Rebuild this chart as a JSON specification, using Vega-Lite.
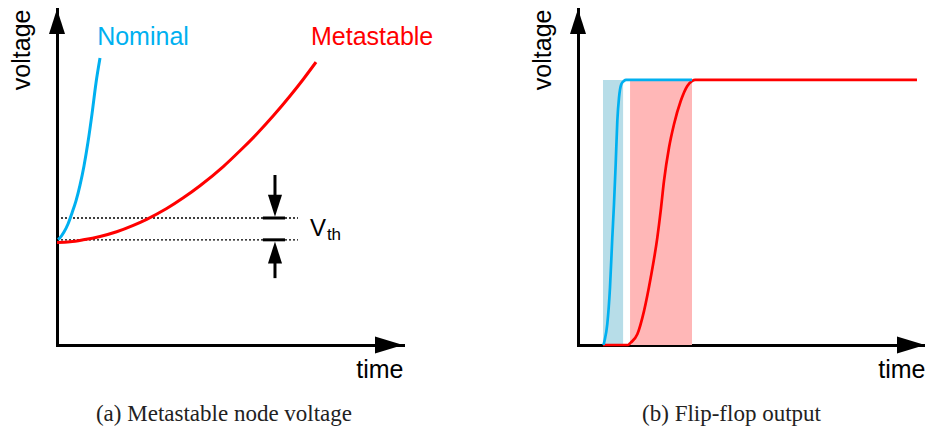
{
  "$schema": "https://vega.github.io/schema/vega-lite/v6.json",
  "background": "white",
  "padding": {"left": 9, "top": 8, "right": 0, "bottom": 0},
  "spacing": 96,
  "config": {"view": {"stroke": null}, "font": "Liberation Sans"},
  "datasets": {
    "left": [
      {"kind": "curve", "series": "Nominal", "t": 0.29, "v": 31.4},
      {"kind": "curve", "series": "Nominal", "t": 0.87, "v": 31.9},
      {"kind": "curve", "series": "Nominal", "t": 2.02, "v": 33.6},
      {"kind": "curve", "series": "Nominal", "t": 3.18, "v": 36.0},
      {"kind": "curve", "series": "Nominal", "t": 4.34, "v": 39.3},
      {"kind": "curve", "series": "Nominal", "t": 5.49, "v": 42.9},
      {"kind": "curve", "series": "Nominal", "t": 6.65, "v": 47.6},
      {"kind": "curve", "series": "Nominal", "t": 7.8, "v": 53.3},
      {"kind": "curve", "series": "Nominal", "t": 8.96, "v": 60.4},
      {"kind": "curve", "series": "Nominal", "t": 10.12, "v": 68.8},
      {"kind": "curve", "series": "Nominal", "t": 11.27, "v": 78.0},
      {"kind": "curve", "series": "Nominal", "t": 12.43, "v": 85.4},
      {"kind": "curve", "series": "Metastable", "t": 0, "v": 30.5},
      {"kind": "curve", "series": "Metastable", "t": 3.76, "v": 30.7},
      {"kind": "curve", "series": "Metastable", "t": 7.6, "v": 31.3},
      {"kind": "curve", "series": "Metastable", "t": 12.43, "v": 32.3},
      {"kind": "curve", "series": "Metastable", "t": 17.25, "v": 33.7},
      {"kind": "curve", "series": "Metastable", "t": 22.05, "v": 35.6},
      {"kind": "curve", "series": "Metastable", "t": 25.92, "v": 37.4},
      {"kind": "curve", "series": "Metastable", "t": 31.7, "v": 40.6},
      {"kind": "curve", "series": "Metastable", "t": 36.5, "v": 43.8},
      {"kind": "curve", "series": "Metastable", "t": 41.33, "v": 47.4},
      {"kind": "curve", "series": "Metastable", "t": 48.06, "v": 53.1},
      {"kind": "curve", "series": "Metastable", "t": 52.89, "v": 57.8},
      {"kind": "curve", "series": "Metastable", "t": 57.72, "v": 62.8},
      {"kind": "curve", "series": "Metastable", "t": 62.51, "v": 68.2},
      {"kind": "curve", "series": "Metastable", "t": 67.34, "v": 74.1},
      {"kind": "curve", "series": "Metastable", "t": 71.18, "v": 79.1},
      {"kind": "curve", "series": "Metastable", "t": 74.86, "v": 84.2},
      {"kind": "thresh", "t": 0, "t2": 69.65, "v": 37.8},
      {"kind": "thresh", "t": 0, "t2": 69.65, "v": 31.3},
      {"kind": "bar", "t": 59.5, "t2": 65.9, "v": 37.8},
      {"kind": "bar", "t": 59.5, "t2": 65.9, "v": 31.3},
      {"kind": "shaft", "t": 63.0, "v": 50.6, "v2": 42.9},
      {"kind": "shaft", "t": 63.0, "v": 26.5, "v2": 19.9},
      {"kind": "down", "t": 63.0, "v": 38.2},
      {"kind": "up", "t": 63.0, "v": 30.8},
      {"kind": "yaxis", "t": 0, "v": 100},
      {"kind": "xaxis", "t": 100, "v": 0},
      {"kind": "label", "series": "Nominal", "label": "Nominal", "t": 11.6, "v": 89.3},
      {"kind": "label", "series": "Metastable", "label": "Metastable", "t": 73.4, "v": 89.3},
      {"kind": "vthV", "label": "V", "t": 73.1, "v": 32.4},
      {"kind": "vthSub", "label": "th", "t": 78.0, "v": 31.2}
    ],
    "right": [
      {"kind": "band", "series": "Nominal", "t": 7.2, "t2": 13.0, "v": 0, "v2": 78.9},
      {"kind": "band", "series": "Metastable", "t": 15.0, "t2": 32.85, "v": 0, "v2": 78.9},
      {"kind": "curve", "series": "Metastable", "t": 7.2, "v": 0},
      {"kind": "curve", "series": "Metastable", "t": 14.41, "v": 0},
      {"kind": "curve", "series": "Metastable", "t": 15.19, "v": 0.7},
      {"kind": "curve", "series": "Metastable", "t": 17.09, "v": 3.2},
      {"kind": "curve", "series": "Metastable", "t": 19.02, "v": 10.1},
      {"kind": "curve", "series": "Metastable", "t": 20.95, "v": 20.0},
      {"kind": "curve", "series": "Metastable", "t": 22.85, "v": 31.9},
      {"kind": "curve", "series": "Metastable", "t": 23.83, "v": 39.9},
      {"kind": "curve", "series": "Metastable", "t": 24.78, "v": 48.8},
      {"kind": "curve", "series": "Metastable", "t": 26.22, "v": 58.7},
      {"kind": "curve", "series": "Metastable", "t": 27.67, "v": 65.7},
      {"kind": "curve", "series": "Metastable", "t": 29.6, "v": 72.6},
      {"kind": "curve", "series": "Metastable", "t": 31.5, "v": 77.1},
      {"kind": "curve", "series": "Metastable", "t": 32.94, "v": 78.6},
      {"kind": "curve", "series": "Metastable", "t": 33.72, "v": 78.9},
      {"kind": "curve", "series": "Metastable", "t": 97.69, "v": 78.9},
      {"kind": "curve", "series": "Nominal", "t": 7.35, "v": 0},
      {"kind": "curve", "series": "Nominal", "t": 7.64, "v": 1.2},
      {"kind": "curve", "series": "Nominal", "t": 8.44, "v": 6.2},
      {"kind": "curve", "series": "Nominal", "t": 9.22, "v": 17.1},
      {"kind": "curve", "series": "Nominal", "t": 9.88, "v": 31.9},
      {"kind": "curve", "series": "Nominal", "t": 10.37, "v": 41.9},
      {"kind": "curve", "series": "Nominal", "t": 10.86, "v": 53.8},
      {"kind": "curve", "series": "Nominal", "t": 11.33, "v": 66.7},
      {"kind": "curve", "series": "Nominal", "t": 11.82, "v": 73.6},
      {"kind": "curve", "series": "Nominal", "t": 12.48, "v": 77.6},
      {"kind": "curve", "series": "Nominal", "t": 13.26, "v": 78.6},
      {"kind": "curve", "series": "Nominal", "t": 13.83, "v": 78.9},
      {"kind": "curve", "series": "Nominal", "t": 32.85, "v": 78.9},
      {"kind": "yaxis", "t": 0, "v": 100},
      {"kind": "xaxis", "t": 100, "v": 0}
    ]
  },
  "hconcat": [
    {
      "width": 346,
      "height": 336,
      "data": {"name": "left"},
      "title": {"text": "(a) Metastable node voltage", "orient": "bottom", "frame": "group", "anchor": "middle", "dx": -6, "offset": 21, "font": "Liberation Serif", "fontSize": 23, "fontWeight": "normal", "color": "#222222"},
      "encoding": {
        "x": {"field": "t", "type": "quantitative", "scale": {"domain": [0, 100], "nice": false, "zero": false},
          "axis": {"title": "time", "domain": true, "domainWidth": 3, "domainColor": "black", "domainCap": "square", "ticks": false, "labels": false, "grid": false, "titleAnchor": "end", "titleFontSize": 25, "titleFont": "Liberation Sans", "titleFontWeight": "normal", "titleColor": "black", "titlePadding": 12}},
        "y": {"field": "v", "type": "quantitative", "scale": {"domain": [0, 100], "nice": false, "zero": false},
          "axis": {"title": "voltage", "domain": true, "domainWidth": 3, "domainColor": "black", "domainCap": "square", "ticks": false, "labels": false, "grid": false, "titleAnchor": "end", "titleFontSize": 25, "titleFont": "Liberation Sans", "titleFontWeight": "normal", "titleColor": "black", "titlePadding": 23}}
      },
      "layer": [
        {"transform": [{"filter": "datum.kind == 'thresh'"}], "mark": {"type": "rule", "color": "black", "strokeWidth": 1.3, "strokeDash": [2, 2]}, "encoding": {"x2": {"field": "t2"}}},
        {"transform": [{"filter": "datum.kind == 'bar'"}], "mark": {"type": "rule", "color": "black", "strokeWidth": 3}, "encoding": {"x2": {"field": "t2"}}},
        {"transform": [{"filter": "datum.kind == 'shaft'"}], "mark": {"type": "rule", "color": "black", "strokeWidth": 3}, "encoding": {"y2": {"field": "v2"}}},
        {"transform": [{"filter": "datum.kind == 'down'"}], "mark": {"type": "point", "shape": "M0,0L-0.32,-1L0.32,-1Z", "size": 1936, "filled": true, "color": "black", "opacity": 1, "strokeWidth": 0}},
        {"transform": [{"filter": "datum.kind == 'up'"}], "mark": {"type": "point", "shape": "M0,0L-0.32,1L0.32,1Z", "size": 1936, "filled": true, "color": "black", "opacity": 1, "strokeWidth": 0}},
        {"transform": [{"filter": "datum.kind == 'curve'"}], "mark": {"type": "line", "strokeWidth": 3, "interpolate": "monotone"},
          "encoding": {"color": {"field": "series", "type": "nominal", "scale": {"domain": ["Nominal", "Metastable"], "range": ["#00b0f0", "#ff0000"]}, "legend": null}}},
        {"transform": [{"filter": "datum.kind == 'label'"}], "mark": {"type": "text", "align": "left", "baseline": "alphabetic", "fontSize": 25, "font": "Liberation Sans"},
          "encoding": {"text": {"field": "label"}, "color": {"field": "series", "type": "nominal", "scale": {"domain": ["Nominal", "Metastable"], "range": ["#00b0f0", "#ff0000"]}, "legend": null}}},
        {"transform": [{"filter": "datum.kind == 'vthV'"}], "mark": {"type": "text", "align": "left", "baseline": "alphabetic", "fontSize": 24, "font": "Liberation Sans", "color": "black"}, "encoding": {"text": {"field": "label"}}},
        {"transform": [{"filter": "datum.kind == 'vthSub'"}], "mark": {"type": "text", "align": "left", "baseline": "alphabetic", "fontSize": 17, "font": "Liberation Sans", "color": "black"}, "encoding": {"text": {"field": "label"}}},
        {"transform": [{"filter": "datum.kind == 'yaxis'"}], "mark": {"type": "point", "shape": "M0,0L-0.32,1L0.32,1Z", "size": 2500, "filled": true, "color": "black", "opacity": 1, "strokeWidth": 0}},
        {"transform": [{"filter": "datum.kind == 'xaxis'"}], "mark": {"type": "point", "shape": "M0,0L-1,-0.3L-1,0.3Z", "size": 3136, "filled": true, "color": "black", "opacity": 1, "strokeWidth": 0}}
      ]
    },
    {
      "width": 347,
      "height": 336,
      "data": {"name": "right"},
      "title": {"text": "(b) Flip-flop output", "orient": "bottom", "frame": "group", "anchor": "middle", "dx": -20, "offset": 21, "font": "Liberation Serif", "fontSize": 23, "fontWeight": "normal", "color": "#222222"},
      "encoding": {
        "x": {"field": "t", "type": "quantitative", "scale": {"domain": [0, 100], "nice": false, "zero": false},
          "axis": {"title": "time", "domain": true, "domainWidth": 3, "domainColor": "black", "domainCap": "square", "ticks": false, "labels": false, "grid": false, "titleAnchor": "end", "titleFontSize": 25, "titleFont": "Liberation Sans", "titleFontWeight": "normal", "titleColor": "black", "titlePadding": 12}},
        "y": {"field": "v", "type": "quantitative", "scale": {"domain": [0, 100], "nice": false, "zero": false},
          "axis": {"title": "voltage", "domain": true, "domainWidth": 3, "domainColor": "black", "domainCap": "square", "ticks": false, "labels": false, "grid": false, "titleAnchor": "end", "titleFontSize": 25, "titleFont": "Liberation Sans", "titleFontWeight": "normal", "titleColor": "black", "titlePadding": 23}}
      },
      "layer": [
        {"transform": [{"filter": "datum.kind == 'band'"}], "mark": {"type": "rect", "opacity": 1},
          "encoding": {"x2": {"field": "t2"}, "y2": {"field": "v2"}, "fill": {"field": "series", "type": "nominal", "scale": {"domain": ["Nominal", "Metastable"], "range": ["#b7dde8", "#ffb7b7"]}, "legend": null}}},
        {"transform": [{"filter": "datum.kind == 'curve'"}], "mark": {"type": "line", "strokeWidth": 2.7, "interpolate": "monotone"},
          "encoding": {"color": {"field": "series", "type": "nominal", "scale": {"domain": ["Metastable", "Nominal"], "range": ["#ff0000", "#00b0f0"]}, "legend": null}}},
        {"transform": [{"filter": "datum.kind == 'yaxis'"}], "mark": {"type": "point", "shape": "M0,0L-0.32,1L0.32,1Z", "size": 2500, "filled": true, "color": "black", "opacity": 1, "strokeWidth": 0}},
        {"transform": [{"filter": "datum.kind == 'xaxis'"}], "mark": {"type": "point", "shape": "M0,0L-1,-0.3L-1,0.3Z", "size": 3136, "filled": true, "color": "black", "opacity": 1, "strokeWidth": 0}}
      ]
    }
  ]
}
